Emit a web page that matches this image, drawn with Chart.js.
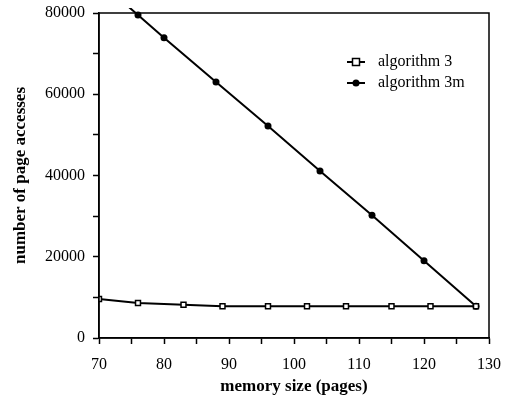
<!DOCTYPE html>
<html lang="en">
<head>
<meta charset="UTF-8">
<title>page accesses vs memory size</title>
<style>
  body { margin: 0; background: #fff; }
  #wrap { width: 508px; height: 400px; }
</style>
</head>
<body>
<div id="wrap"><canvas id="accChart" width="508" height="400"></canvas></div>
<script src="https://cdn.jsdelivr.net/npm/chart.js"></script>
<script>
// values
const alg3Mem = [70, 76, 83, 89, 96, 102, 108, 115, 121, 128];
const alg3Acc = [9600, 8600, 8200, 7800, 7800, 7800, 7800, 7800, 7800, 7800];
// first 3m point lies above the top of the plot, only its line shows
const alg3mMem = [72, 76, 80, 88, 96, 104, 112, 120, 128];
const alg3mAcc = [85100, 79500, 73900, 63000, 52200, 41100, 30200, 19000, 7800];
const xTickLabels = [70, 80, 90, 100, 110, 120, 130];
const yTickLabels = [0, 20000, 40000, 60000, 80000];
const seriesNames = ['algorithm 3', 'algorithm 3m'];

const serif = '"Liberation Serif", "Times New Roman", serif';

function toPoints(xs, ys) {
    return xs.map((x, i) => ({ x: x, y: ys[i] }));
}

// box round the plot
const framePlugin = {
    id: 'frame',
    afterDatasetsDraw(chart) {
        const { ctx, chartArea: a } = chart;
        ctx.save();
        ctx.strokeStyle = '#000';
        ctx.lineWidth = 1.5;
        ctx.strokeRect(a.left, a.top, a.right - a.left, a.bottom - a.top);
        ctx.restore();
    }
};

// legend sits inside the plot, top right
const legendPlugin = {
    id: 'insideLegend',
    afterDraw(chart) {
        const { ctx, chartArea: a } = chart;
        const mx = a.right - 133;
        const tx = a.right - 111;
        ctx.save();
        ctx.font = '16px ' + serif;
        ctx.fillStyle = '#000';
        ctx.textBaseline = 'middle';
        chart.data.datasets.forEach((ds, i) => {
            const y = a.top + 49 + i * 21;
            ctx.strokeStyle = '#000';
            ctx.lineWidth = 2;
            ctx.beginPath();
            ctx.moveTo(mx - 9, y);
            ctx.lineTo(mx + 9, y);
            ctx.stroke();
            ctx.lineWidth = 1.5;
            if (ds.pointStyle === 'rect') {
                ctx.fillStyle = '#fff';
                ctx.fillRect(mx - 3.5, y - 3.5, 7, 7);
                ctx.strokeRect(mx - 3.5, y - 3.5, 7, 7);
            } else {
                ctx.fillStyle = '#000';
                ctx.beginPath();
                ctx.arc(mx, y, 3.5, 0, Math.PI * 2);
                ctx.fill();
            }
            ctx.fillStyle = '#000';
            ctx.fillText(ds.label, tx, y);
        });
        ctx.restore();
    }
};

const ctx = document.getElementById('accChart').getContext('2d');
const accChart = new Chart(ctx, {
    type: 'line',
    data: {
        datasets: [
            {
                label: seriesNames[0],
                data: toPoints(alg3Mem, alg3Acc),
                borderColor: '#000',
                borderWidth: 2,
                pointStyle: 'rect',
                pointRadius: 3.5,
                pointBackgroundColor: '#fff',
                pointBorderColor: '#000',
                pointBorderWidth: 1.5,
                tension: 0
            },
            {
                label: seriesNames[1],
                data: toPoints(alg3mMem, alg3mAcc),
                borderColor: '#000',
                borderWidth: 2,
                pointStyle: 'circle',
                pointRadius: c => (c.dataIndex === 0 ? 0 : 3.5),
                pointBackgroundColor: '#000',
                pointBorderColor: '#000',
                pointBorderWidth: 0,
                tension: 0,
                clip: { left: 0, top: 5, right: 0, bottom: 0 }
            }
        ]
    },
    options: {
        responsive: false,
        animation: false,
        layout: { padding: { top: 13, right: 19, left: 10, bottom: 0 } },
        plugins: {
            legend: { display: false },
            tooltip: { enabled: false }
        },
        scales: {
            x: {
                type: 'linear',
                min: 70,
                max: 130,
                afterFit: s => {
                    s.height = 62;
                    s.paddingLeft = 0;
                    s.paddingRight = 0;
                },
                ticks: {
                    stepSize: 5,
                    autoSkip: false,
                    maxRotation: 0,
                    padding: 11,
                    color: '#000',
                    font: { family: serif, size: 16 },
                    callback: v => (xTickLabels.includes(v) ? String(v) : '')
                },
                grid: {
                    drawOnChartArea: false,
                    tickLength: 6,
                    tickColor: '#000',
                    tickWidth: 1.5
                },
                border: { display: true, color: '#000', width: 1.5 },
                title: {
                    display: true,
                    text: 'memory size (pages)',
                    color: '#000',
                    font: { family: serif, size: 17, weight: 'bold' },
                    padding: { top: 0, bottom: 3 }
                }
            },
            y: {
                min: 0,
                max: 80000,
                afterFit: s => {
                    s.width = 89;
                    s.paddingTop = 0;
                    s.paddingBottom = 0;
                },
                ticks: {
                    stepSize: 10000,
                    autoSkip: false,
                    padding: 8,
                    color: '#000',
                    font: { family: serif, size: 16 },
                    callback: v => (yTickLabels.includes(v) ? String(v) : '')
                },
                grid: {
                    drawOnChartArea: false,
                    tickLength: 6,
                    tickColor: '#000',
                    tickWidth: 1.5
                },
                border: { display: true, color: '#000', width: 1.5 },
                title: {
                    display: true,
                    text: 'number of page accesses',
                    color: '#000',
                    font: { family: serif, size: 17, weight: 'bold' },
                    padding: { top: 0, bottom: 0 }
                }
            }
        }
    },
    plugins: [framePlugin, legendPlugin]
});
</script>
</body>
</html>
